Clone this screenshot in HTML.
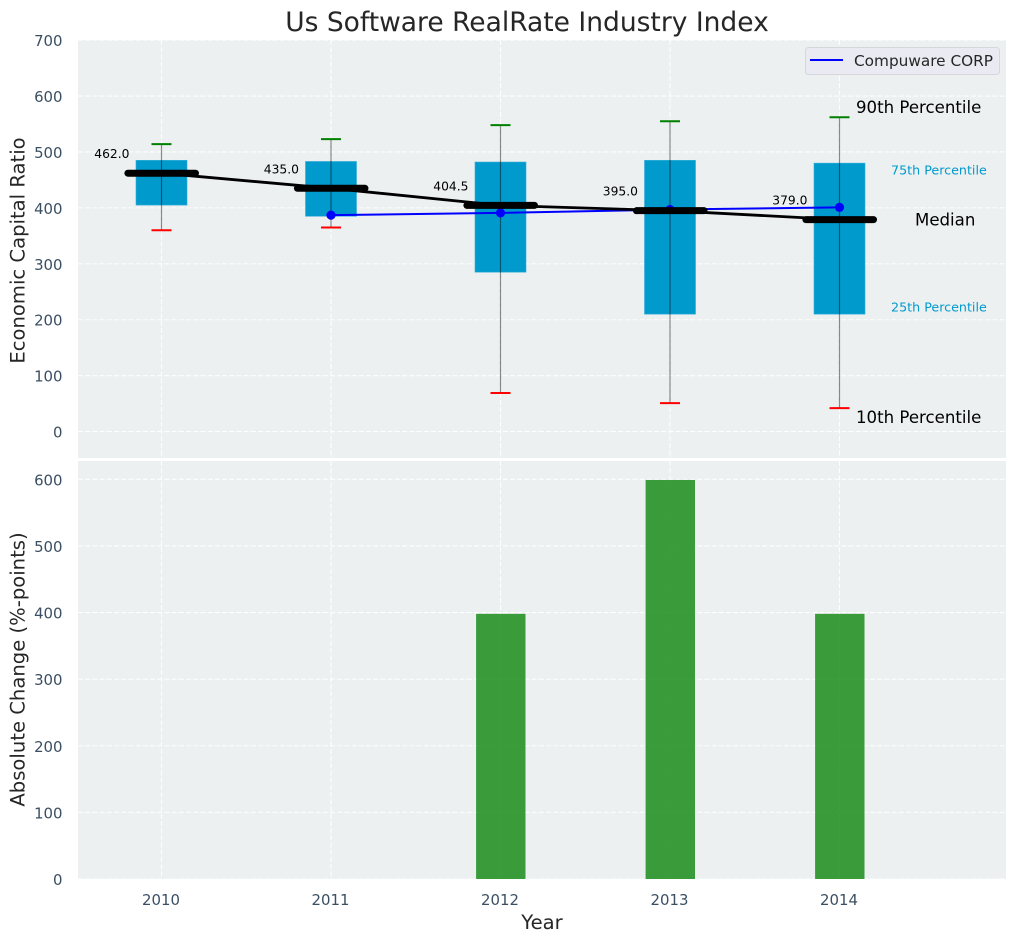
<!DOCTYPE html>
<html lang="en">
<head>
<meta charset="utf-8">
<title>Us Software RealRate Industry Index</title>
<style>
html,body{margin:0;padding:0;background:#fff;width:1016px;height:942px;overflow:hidden}
svg{display:block;font-family:"DejaVu Sans","Liberation Sans",sans-serif}
.tick{font-size:14.9px;fill:#3b4f63}
.axis-label{font-size:19.6px;fill:#262626}
.pct-big{font-size:16.6px;fill:#000}
.pct-small{font-size:12.7px;fill:#009acd}
.val{font-size:12.3px;fill:#000}
</style>
</head>
<body>
<svg id="chart" xmlns="http://www.w3.org/2000/svg" width="1016" height="942" viewBox="0 0 1016 942">
  <text x="527" y="31" text-anchor="middle" font-size="26.5" fill="#262626">Us Software RealRate Industry Index</text>
  <rect x="78" y="40" width="928" height="418" fill="#ecf0f1"/>
  <rect x="78" y="461" width="928" height="418" fill="#ecf0f1"/>
  <g id="top-grid"></g>
  <g id="bottom-grid"></g>
  <g id="top-ticks"></g>
  <g id="bottom-ticks"></g>
  <g id="x-ticks"></g>
  <g id="boxes"></g>
  <g id="company"></g>
  <g id="medians"></g>
  <g id="bars"></g>
  <g id="pct-labels">
    <text id="lab-90" class="pct-big" x="856" dominant-baseline="central">90th Percentile</text>
    <text id="lab-75" class="pct-small" x="891" dominant-baseline="central">75th Percentile</text>
    <text id="lab-50" class="pct-big" x="915" dominant-baseline="central">Median</text>
    <text id="lab-25" class="pct-small" x="891" dominant-baseline="central">25th Percentile</text>
    <text id="lab-10" class="pct-big" x="856" dominant-baseline="central">10th Percentile</text>
  </g>
  <g>
    <rect x="805.5" y="47.5" width="194" height="27" rx="3" fill="#eaeaf2" stroke="#d6d6dc" stroke-width="1"/>
    <line x1="810" y1="60" x2="843" y2="60" stroke="#0000ff" stroke-width="2"/>
    <text x="854" y="66" font-size="15.3" fill="#262626">Compuware CORP</text>
  </g>
  <text class="axis-label" transform="translate(24.5,250.5) rotate(-90)" text-anchor="middle">Economic Capital Ratio</text>
  <text class="axis-label" transform="translate(24.5,669.5) rotate(-90)" text-anchor="middle">Absolute Change (%-points)</text>
  <text class="axis-label" x="542" y="929" text-anchor="middle">Year</text>
</svg>
<script>
const years = [2010, 2011, 2012, 2013, 2014];
const p90 = [514, 523, 548, 555, 562];
const p75 = [485, 483, 482, 485, 480];
const medians = [462, 435, 404.5, 395, 379];
const p25 = [405, 385, 285, 210, 210];
const p10 = [360, 365, 69, 51, 42];
const companyYears = [2011, 2012, 2013, 2014];
const companyValues = [387, 391, 397, 401];
const changeValues = [0, 0, 398, 599, 398];
const topTickValues = [0, 100, 200, 300, 400, 500, 600, 700];
const bottomTickValues = [0, 100, 200, 300, 400, 500, 600];

const NS = 'http://www.w3.org/2000/svg';
const plotLeft = 78, plotRight = 1006;
const topPlotTop = 40, topPlotBottom = 458;
const bottomPlotTop = 461, bottomPlotBottom = 879;
function x(year) { return 161.5 + (year - 2010) * 169.5; }
function yTop(v) { return 431.6 - v * 0.5593; }
function yBottom(v) { return 879 - v * 0.6662; }
function make(tag, parentId, attrs) {
  const el = document.createElementNS(NS, tag);
  for (const k in attrs) el.setAttribute(k, attrs[k]);
  document.getElementById(parentId).appendChild(el);
  return el;
}
const gridStyle = { stroke: '#ffffff', 'stroke-width': 1.1, 'stroke-dasharray': '5 2.2', 'stroke-opacity': 0.9 };

topTickValues.forEach(function (v) {
  const line = make('line', 'top-grid', Object.assign({ x1: plotLeft, x2: plotRight, y1: yTop(v), y2: yTop(v) }, gridStyle));
  
  
  const t = make('text', 'top-ticks', { x: 62.5, y: yTop(v) + 1, 'text-anchor': 'end', 'dominant-baseline': 'central', class: 'tick' });
  t.textContent = String(v);
  
  
});
bottomTickValues.forEach(function (v) {
  const line = make('line', 'bottom-grid', Object.assign({ x1: plotLeft, x2: plotRight, y1: yBottom(v), y2: yBottom(v) }, gridStyle));
  
  
  const t = make('text', 'bottom-ticks', { x: 62.5, y: yBottom(v) + 1, 'text-anchor': 'end', 'dominant-baseline': 'central', class: 'tick' });
  t.textContent = String(v);
  
  
});
years.forEach(function (yr) {
  const a = make('line', 'top-grid', Object.assign({ x1: x(yr), x2: x(yr), y1: topPlotTop, y2: topPlotBottom }, gridStyle));
  
  
  const b = make('line', 'bottom-grid', Object.assign({ x1: x(yr), x2: x(yr), y1: bottomPlotTop, y2: bottomPlotBottom }, gridStyle));
  
  
  const t = make('text', 'x-ticks', { x: x(yr) - 0.5, y: 900, 'text-anchor': 'middle', 'dominant-baseline': 'central', class: 'tick' });
  t.textContent = String(yr);
  
  
});

const boxHalf = 25.5, capHalf = 10, medianHalf = 34, barHalf = 24.7;

years.forEach(function (yr, i) {
  const box = make('rect', 'boxes', { x: x(yr) - boxHalf, width: boxHalf * 2, y: yTop(p75[i]), height: yTop(p25[i]) - yTop(p75[i]), fill: '#009acd', stroke: '#33aed7', 'stroke-width': 0.6 });
  
  
  const whisker = make('line', 'boxes', { x1: x(yr), x2: x(yr), y1: yTop(p90[i]), y2: yTop(p10[i]), stroke: '#000000', 'stroke-opacity': 0.45, 'stroke-width': 1.2 });
  
  
  const hi = make('line', 'boxes', { x1: x(yr) - capHalf, x2: x(yr) + capHalf, y1: yTop(p90[i]), y2: yTop(p90[i]), stroke: '#008000', 'stroke-width': 2 });
  
  
  const lo = make('line', 'boxes', { x1: x(yr) - capHalf, x2: x(yr) + capHalf, y1: yTop(p10[i]), y2: yTop(p10[i]), stroke: '#ff0000', 'stroke-width': 2 });
  
  
  const med = make('line', 'medians', { x1: x(yr) - medianHalf + 0.4, x2: x(yr) + medianHalf, y1: yTop(medians[i]), y2: yTop(medians[i]), stroke: '#000000', 'stroke-width': 7, 'stroke-linecap': 'round' });
  
  
  const lab = make('text', 'medians', { x: x(yr) - 32, y: yTop(medians[i]) - 15, 'text-anchor': 'end', class: 'val' });
  lab.textContent = medians[i].toFixed(1);
  
  
  if (changeValues[i] > 0) {
    const bar = make('rect', 'bars', { x: x(yr) - barHalf + 0.3, width: barHalf * 2, y: yBottom(changeValues[i]), height: yBottom(0) - yBottom(changeValues[i]), fill: '#008000', 'fill-opacity': 0.76 });
    
    
  }
});

const medianLine = make('polyline', 'medians', { points: years.map(function (yr, i) { return x(yr) + ',' + yTop(medians[i]); }).join(' '), fill: 'none', stroke: '#000000', 'stroke-width': 2.8 });



const companyLine = make('polyline', 'company', { points: companyYears.map(function (yr, i) { return x(yr) + ',' + yTop(companyValues[i]); }).join(' '), fill: 'none', stroke: '#0000ff', 'stroke-width': 2 });


companyYears.forEach(function (yr, i) {
  const dot = make('circle', 'company', { cx: x(yr), cy: yTop(companyValues[i]), r: 4.6, fill: '#0000ff' });
  
  
});

const last = years.length - 1;
document.getElementById('lab-90').setAttribute('y', yTop(p90[last]) - 10);
document.getElementById('lab-75').setAttribute('y', yTop(p75[last]) + 7);
document.getElementById('lab-50').setAttribute('y', yTop(medians[last]) + 0.5);
document.getElementById('lab-25').setAttribute('y', yTop(p25[last]) - 7);
document.getElementById('lab-10').setAttribute('y', yTop(p10[last]) + 9.5);
</script>
</body>
</html>
